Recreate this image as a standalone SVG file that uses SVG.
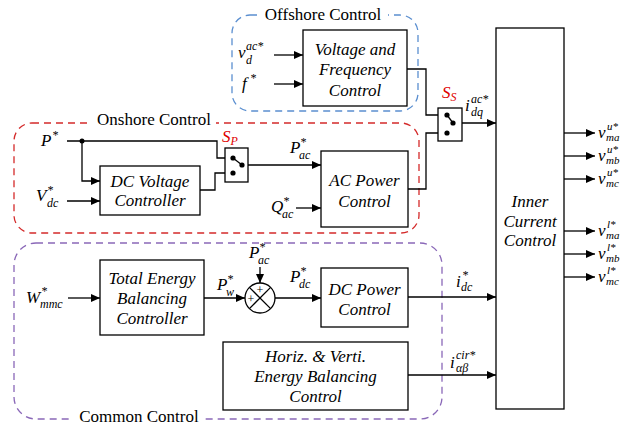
<svg xmlns="http://www.w3.org/2000/svg" width="644" height="430" viewBox="0 0 644 430" font-family="Liberation Serif, Times New Roman, DejaVu Serif, serif">
<defs>
<marker id="arr" markerWidth="9" markerHeight="8" refX="9" refY="4" orient="auto" markerUnits="userSpaceOnUse">
<path d="M0,0 L9,4 L0,8 Z" fill="#000"/>
</marker>
<style>
.box{fill:#fff;stroke:#000;stroke-width:1.3}
.ln{fill:none;stroke:#000;stroke-width:1.3}
.ar{fill:none;stroke:#000;stroke-width:1.3;marker-end:url(#arr)}
.bt{font-style:italic;font-size:17px;text-anchor:middle;fill:#000}
.gt{font-size:17px;text-anchor:middle;fill:#000}
.m{font-style:italic;font-size:17px;fill:#000}
.s{font-size:12px}
.t{font-size:11px}
.red{fill:#e00000}
.dot{fill:#000}
</style>
</defs>
<rect width="644" height="430" fill="#fff"/>

<g id="offshore">
<rect x="232" y="15" width="186" height="96" rx="18" fill="none" stroke="#5b8fd0" stroke-width="1.3" stroke-dasharray="7,5"/>
<rect x="260" y="6" width="128" height="18" fill="#fff"/>
<text class="gt" x="323" y="20" font-family="Liberation Serif, serif">Offshore Control</text>
</g>
<g id="onshore">
<rect x="14" y="123" width="405" height="110" rx="18" fill="none" stroke="#d42a2a" stroke-width="1.3" stroke-dasharray="7,5"/>
<rect x="92" y="112" width="124" height="18" fill="#fff"/>
<text class="gt" x="154" y="125" font-family="Liberation Serif, serif">Onshore Control</text>
</g>
<g id="common">
<rect x="14" y="243" width="428" height="176" rx="22" fill="none" stroke="#8a68b8" stroke-width="1.3" stroke-dasharray="7,5"/>
<rect x="73" y="408" width="132" height="20" fill="#fff"/>
<text class="gt" x="139" y="422" font-family="Liberation Serif, serif">Common Control</text>
</g>

<g id="connectors">
<line class="ar" x1="274" y1="55" x2="303" y2="55"/>
<line class="ar" x1="274" y1="84" x2="303" y2="84"/>
<polyline class="ln" points="407,69 426,69 426,115 447,115"/>
<polyline class="ln" points="408,189 426,189 426,133 447,133"/>
<line class="ar" x1="453" y1="123" x2="496" y2="123"/>
<polyline class="ln" points="67,141 217,141 217,158 233,158"/>
<polyline class="ar" points="82,141 82,181 100,181"/>
<line class="ar" x1="67" y1="201" x2="100" y2="201"/>
<polyline class="ln" points="200,190 215,190 215,173 233,173"/>
<line class="ar" x1="242" y1="165" x2="321" y2="165"/>
<line class="ar" x1="296" y1="208" x2="321" y2="208"/>
<line class="ar" x1="68" y1="298" x2="100" y2="298"/>
<line class="ar" x1="204" y1="298" x2="245" y2="298"/>
<line class="ar" x1="260" y1="267" x2="260" y2="283"/>
<line class="ar" x1="275" y1="298" x2="321" y2="298"/>
<line class="ar" x1="408" y1="297" x2="496" y2="297"/>
<line class="ar" x1="408" y1="375" x2="496" y2="375"/>
<line class="ar" x1="564" y1="133" x2="595" y2="133"/>
<line class="ar" x1="564" y1="156" x2="595" y2="156"/>
<line class="ar" x1="564" y1="179" x2="595" y2="179"/>
<line class="ar" x1="564" y1="231" x2="595" y2="231"/>
<line class="ar" x1="564" y1="254" x2="595" y2="254"/>
<line class="ar" x1="564" y1="277" x2="595" y2="277"/>
<circle class="dot" cx="82" cy="141" r="2.5"/>
</g>

<g id="vf">
<rect class="box" x="303" y="30" width="104" height="76"/>
<text class="bt" x="355" y="55">Voltage and</text>
<text class="bt" x="355" y="75">Frequency</text>
<text class="bt" x="355" y="96">Control</text>
</g>
<g id="dcv">
<rect class="box" x="100" y="166" width="100" height="49"/>
<text class="bt" x="150" y="187">DC Voltage</text>
<text class="bt" x="150" y="206">Controller</text>
</g>
<g id="acp">
<rect class="box" x="321" y="151" width="87" height="76"/>
<text class="bt" x="364.5" y="186">AC Power</text>
<text class="bt" x="364.5" y="207">Control</text>
</g>
<g id="teb">
<rect class="box" x="100" y="260" width="104" height="75"/>
<text class="bt" x="152" y="284">Total Energy</text>
<text class="bt" x="152" y="304">Balancing</text>
<text class="bt" x="152" y="324">Controller</text>
</g>
<g id="sum">
<circle cx="260" cy="298" r="15" fill="#fff" stroke="#000" stroke-width="1.3"/>
<line class="ln" x1="249.4" y1="287.4" x2="270.6" y2="308.6"/>
<line class="ln" x1="270.6" y1="287.4" x2="249.4" y2="308.6"/>
<text x="260" y="294" font-size="12" text-anchor="middle">+</text>
<text x="251" y="303" font-size="12" text-anchor="middle">+</text>
</g>
<g id="dcp">
<rect class="box" x="321" y="268" width="87" height="59"/>
<text class="bt" x="364.5" y="295">DC Power</text>
<text class="bt" x="364.5" y="315">Control</text>
</g>
<g id="hveb">
<rect class="box" x="223" y="342" width="185" height="68"/>
<text class="bt" x="315.5" y="362">Horiz. &amp; Verti.</text>
<text class="bt" x="315.5" y="382">Energy Balancing</text>
<text class="bt" x="315.5" y="402">Control</text>
</g>
<g id="icc">
<rect class="box" x="496" y="28" width="68" height="381"/>
<text class="bt" x="530" y="207">Inner</text>
<text class="bt" x="530" y="227">Current</text>
<text class="bt" x="530" y="246">Control</text>
</g>
<g id="swp">
<rect class="box" x="225" y="148" width="23" height="34"/>
<line class="ln" x1="233" y1="158" x2="242" y2="165"/>
<circle class="dot" cx="233" cy="158" r="2.6"/>
<circle class="dot" cx="233" cy="173" r="2.6"/>
<circle class="dot" cx="242" cy="165" r="2.6"/>
<text class="m red" x="222" y="142">S<tspan class="s" dy="3">P</tspan></text>
</g>
<g id="sws">
<rect class="box" x="438" y="108" width="24" height="33"/>
<line class="ln" x1="447" y1="115" x2="453" y2="123"/>
<circle class="dot" cx="447" cy="115" r="2.6"/>
<circle class="dot" cx="447" cy="133" r="2.6"/>
<circle class="dot" cx="453" cy="123" r="2.6"/>
<text class="m red" x="442" y="98">S<tspan class="s" dy="3">S</tspan></text>
</g>

<g id="labels">
<text class="m" x="238" y="58">v<tspan class="s" x="246" y="50">ac*</tspan><tspan class="s" x="246" y="64">d</tspan></text>
<text class="m" x="242" y="89">f<tspan class="s" x="250" y="82">*</tspan></text>
<text class="m" x="41" y="146">P<tspan class="s" x="52" y="139">*</tspan></text>
<text class="m" x="36" y="201">V<tspan class="s" x="47" y="194">*</tspan><tspan class="s" x="47" y="207">dc</tspan></text>
<text class="m" x="290" y="153">P<tspan class="s" x="300" y="146">*</tspan><tspan class="s" x="299" y="159">ac</tspan></text>
<text class="m" x="271" y="212">Q<tspan class="s" x="283" y="205">*</tspan><tspan class="s" x="282" y="218">ac</tspan></text>
<text class="m" x="465" y="111">i<tspan class="s" x="471" y="103">ac*</tspan><tspan class="s" x="471" y="116">dq</tspan></text>
<text class="m" x="26" y="303">W<tspan class="s" x="41" y="295">*</tspan><tspan class="s" x="40" y="308">mmc</tspan></text>
<text class="m" x="217" y="290">P<tspan class="s" x="227" y="283">*</tspan><tspan class="s" x="226" y="296">w</tspan></text>
<text class="m" x="249" y="258">P<tspan class="s" x="259" y="251">*</tspan><tspan class="s" x="258" y="264">ac</tspan></text>
<text class="m" x="290" y="282">P<tspan class="s" x="300" y="275">*</tspan><tspan class="s" x="299" y="288">dc</tspan></text>
<text class="m" x="456" y="287">i<tspan class="s" x="462" y="279">*</tspan><tspan class="s" x="461" y="291">dc</tspan></text>
<text class="m" x="450" y="368">i<tspan class="s" x="456" y="359">cir*</tspan><tspan class="s" x="456" y="372">αβ</tspan></text>
<text class="m" x="598" y="138">v<tspan class="t" x="607" y="130">u*</tspan><tspan class="t" x="606" y="141">ma</tspan></text>
<text class="m" x="598" y="161">v<tspan class="t" x="607" y="153">u*</tspan><tspan class="t" x="606" y="164">mb</tspan></text>
<text class="m" x="598" y="184">v<tspan class="t" x="607" y="176">u*</tspan><tspan class="t" x="606" y="187">mc</tspan></text>
<text class="m" x="598" y="236">v<tspan class="t" x="607" y="228">l*</tspan><tspan class="t" x="606" y="239">ma</tspan></text>
<text class="m" x="598" y="259">v<tspan class="t" x="607" y="251">l*</tspan><tspan class="t" x="606" y="262">mb</tspan></text>
<text class="m" x="598" y="282">v<tspan class="t" x="607" y="274">l*</tspan><tspan class="t" x="606" y="285">mc</tspan></text>
</g>
</svg>
